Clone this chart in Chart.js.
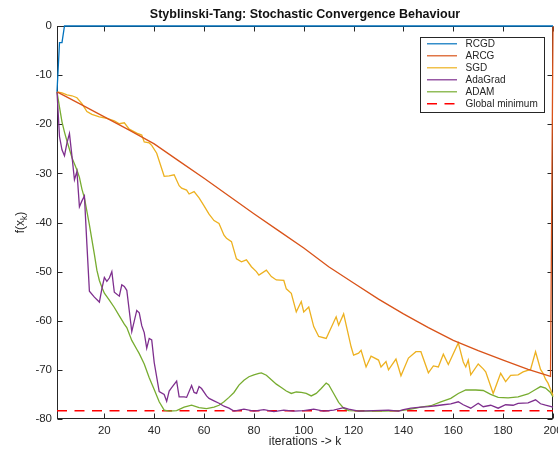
<!DOCTYPE html>
<html lang="en">

<head>
    <meta charset="UTF-8">
    <script src="https://cdn.jsdelivr.net/npm/chart.js@4.4.3/dist/chart.umd.min.js"></script>
    <style>
        html,
        body {
            margin: 0;
            padding: 0;
            overflow: hidden;
            background: #fff;
        }

        #wrap {
            position: relative;
            width: 600px;
            height: 451px;
        }
    </style>
</head>

<body>
    <div id="wrap"><canvas id="chart"></canvas></div>

    <script>
        // [iteration, f(x_k)] per optimiser
        const rcgd = [[1, -13.4], [2, -3.4], [3, -3.4], [4, 0], [200, 0]];

        const arcg = [
            [1, -13.4], [10, -15.8], [20, -18.5], [30, -21.2], [40, -24.0], [50, -27.5], [60, -31.0],
            [70, -34.6], [80, -38.2], [90, -41.7], [100, -45.2], [110, -49.0], [120, -52.3], [130, -55.6],
            [140, -58.6], [150, -61.4], [160, -64.0], [170, -66.1], [180, -68.0], [190, -69.9],
            [199, -71.3], [200, 0]
        ];

        const sgd = [
            [1, -13.4], [3, -13.6], [5, -14.0], [7, -14.2], [9, -14.6], [11, -15.8], [13, -17.4],
            [15, -18.0], [18, -18.5], [21, -18.8], [24, -19.3], [26, -19.9], [28, -19.7], [30, -21.0],
            [33, -21.8], [35, -22.2], [36, -23.6], [38, -23.8], [39, -24.3], [41, -25.9], [44, -30.6],
            [46, -30.5], [48, -30.3], [50, -32.5], [51, -33.0], [53, -33.4], [54, -34.2], [56, -33.7],
            [58, -35.0], [60, -36.6], [62, -38.3], [64, -39.6], [66, -40.2], [68, -42.6], [69, -43.2],
            [71, -43.9], [73, -47.4], [75, -48.0], [77, -47.6], [79, -49.0], [81, -50.0], [82, -50.7],
            [85, -49.7], [87, -51.0], [89, -51.7], [92, -51.8], [93, -53.5], [95, -54.4], [97, -58.2],
            [99, -56.1], [100, -58.2], [102, -57.2], [104, -61.2], [106, -63.2], [109, -63.6],
            [113, -59.2], [114, -60.9], [116, -58.6], [119, -65.3], [120, -67.0], [122, -66.6],
            [123, -66.0], [125, -69.4], [127, -67.2], [130, -68.0], [131, -69.4], [133, -68.3],
            [134, -70.0], [137, -67.8], [139, -71.2], [142, -67.6], [145, -66.3], [147, -66.3],
            [150, -70.6], [152, -69.2], [154, -69.4], [156, -66.8], [158, -68.9], [162, -64.5],
            [164, -68.4], [165, -69.4], [166, -68.0], [167, -71.0], [170, -68.8], [172, -69.8],
            [173, -70.4], [176, -74.8], [179, -70.7], [181, -72.4], [183, -71.1], [186, -71.0],
            [188, -70.4], [191, -69.9], [193, -66.3], [195, -69.9], [196, -70.7], [197, -71.9],
            [198, -72.7], [200, -75.2]
        ];

        const adagrad = [
            [1, -13.4], [2, -22.5], [3, -25.2], [4, -26.4], [5, -23.8], [6, -21.9], [7, -26.5],
            [8, -31.3], [9, -29.6], [10, -36.8], [11, -35.6], [12, -34.6], [13, -44.5], [14, -54.0],
            [16, -55.2], [18, -56.2], [19, -53.5], [20, -51.2], [21, -52.0], [22, -51.3], [23, -50.0],
            [24, -54.2], [26, -55.0], [27, -52.7], [28, -53.0], [29, -53.8], [31, -62.2], [33, -57.9],
            [34, -58.4], [35, -61.0], [36, -62.4], [37, -65.6], [38, -63.6], [39, -63.9], [40, -68.5],
            [42, -74.4], [44, -75.0], [45, -76.4], [46, -74.3], [47, -73.6], [49, -72.3], [50, -75.5],
            [52, -75.5], [53, -75.6], [55, -73.2], [56, -74.6], [57, -74.8], [58, -73.4], [59, -73.8],
            [61, -75.3], [62, -75.8], [64, -76.3], [66, -76.8], [68, -77.4], [70, -77.8], [72, -78.4],
            [76, -78.0], [80, -78.4], [84, -78.1], [88, -78.5], [92, -78.2], [96, -78.4], [100, -78.3],
            [104, -78.0], [108, -78.4], [112, -78.2], [116, -77.7], [118, -78.0], [122, -78.4],
            [128, -78.3], [134, -78.2], [138, -78.4], [140, -78.1], [143, -77.8], [147, -77.6],
            [150, -77.5], [153, -77.3], [156, -77.1], [159, -76.9], [162, -76.5], [164, -77.1],
            [167, -77.8], [170, -76.8], [172, -77.5], [175, -77.2], [178, -77.8], [181, -77.1],
            [184, -77.2], [186, -76.8], [190, -76.7], [193, -76.1], [195, -76.9], [197, -77.2],
            [200, -77.6]
        ];

        const adam = [
            [1, -13.4], [2, -16.5], [3, -19.5], [4, -21.6], [5, -23.4], [7, -26.8], [9, -29.3],
            [10, -30.8], [11, -33.2], [12, -35.0], [14, -40.5], [16, -46.5], [17, -49.7], [18, -51.8],
            [19, -53.2], [20, -54.4], [22, -55.8], [24, -57.3], [26, -59.0], [28, -60.7], [29, -61.4],
            [31, -64.0], [33, -65.8], [34, -66.7], [36, -68.8], [38, -71.6], [40, -74.0], [42, -76.5],
            [44, -78.2], [46, -78.4], [49, -78.3], [52, -77.6], [55, -77.2], [58, -77.7], [61, -77.9],
            [64, -77.6], [66, -77.2], [68, -76.5], [70, -75.6], [72, -74.6], [74, -73.1], [76, -72.1],
            [78, -71.4], [80, -71.0], [82, -70.7], [83, -70.6], [85, -71.1], [87, -72.0], [89, -72.9],
            [91, -73.6], [93, -74.3], [95, -74.8], [97, -74.5], [99, -74.6], [101, -74.8], [103, -75.3],
            [105, -74.8], [107, -73.8], [109, -72.7], [110, -73.0], [112, -74.8], [114, -76.6],
            [116, -77.8], [118, -78.3], [125, -78.4], [132, -78.4], [139, -78.3], [143, -78.0],
            [147, -77.6], [151, -77.3], [155, -76.5], [159, -75.8], [162, -74.8], [165, -74.1],
            [169, -74.1], [172, -74.2], [175, -75.0], [178, -75.6], [182, -75.7], [186, -75.5],
            [190, -74.9], [193, -74.0], [195, -73.4], [197, -73.7], [199, -74.6], [200, -75.5]
        ];

        const globalMin = [[1, -78.33], [200, -78.33]];

        const xTicks = [20, 40, 60, 80, 100, 120, 140, 160, 180, 200];
        const yTicks = [-80, -70, -60, -50, -40, -30, -20, -10, 0];

        const FONT = "'Liberation Sans', Arial, Helvetica, sans-serif";
        const AXIS_COLOR = "#262626";

        const series = [
            { label: "RCGD", data: rcgd, color: "#0072bd" },
            { label: "ARCG", data: arcg, color: "#d95319" },
            { label: "SGD", data: sgd, color: "#edb120" },
            { label: "AdaGrad", data: adagrad, color: "#7e2f8e" },
            { label: "ADAM", data: adam, color: "#77ac30" },
            { label: "Global minimum", data: globalMin, color: "#ff0000", dash: [10, 7.5] }
        ];

        // box round the plot with inward ticks on all four sides
        const axesBox = {
            id: "axesBox",
            beforeDatasetsDraw(chart) {
                const { ctx, chartArea: a, scales: { x, y } } = chart;
                const L = Math.round(a.left) + 0.5, R = Math.round(a.right) - 0.5;
                const T = Math.round(a.top) + 0.5, B = Math.round(a.bottom) - 0.5;
                ctx.save();
                ctx.strokeStyle = AXIS_COLOR;
                ctx.lineWidth = 1;
                ctx.strokeRect(L, T, R - L, B - T);
                ctx.beginPath();
                for (const v of xTicks) {
                    const px = Math.round(x.getPixelForValue(v)) + 0.5;
                    ctx.moveTo(px, B); ctx.lineTo(px, B - 5);
                    ctx.moveTo(px, T); ctx.lineTo(px, T + 5);
                }
                for (const v of yTicks) {
                    const py = Math.round(y.getPixelForValue(v)) + 0.5;
                    ctx.moveTo(L, py); ctx.lineTo(L + 5, py);
                    ctx.moveTo(R, py); ctx.lineTo(R - 5, py);
                }
                ctx.stroke();
                ctx.restore();
            }
        };

        // rotated y label with a subscript k
        const yLabel = {
            id: "yLabel",
            afterDraw(chart) {
                const { ctx, chartArea: a } = chart;
                const main = `12px ${FONT}`, sub = `8.5px ${FONT}`;
                ctx.save();
                ctx.translate(21, (a.top + a.bottom) / 2);
                ctx.rotate(-Math.PI / 2);
                ctx.fillStyle = AXIS_COLOR;
                ctx.textBaseline = "middle";
                ctx.textAlign = "left";
                ctx.font = main;
                const w1 = ctx.measureText("f(x").width, w3 = ctx.measureText(")").width;
                ctx.font = sub;
                const w2 = ctx.measureText("k").width;
                let sx = -(w1 + w2 + w3) / 2;
                ctx.font = main;
                ctx.fillText("f(x", sx, 0);
                sx += w1;
                ctx.font = sub;
                ctx.fillText("k", sx, 3.5);
                sx += w2;
                ctx.font = main;
                ctx.fillText(")", sx, 0);
                ctx.restore();
            }
        };

        // boxed legend in the top right corner of the plot
        const legendBox = {
            id: "legendBox",
            afterDatasetsDraw(chart) {
                const { ctx, chartArea: a } = chart;
                const sets = chart.data.datasets;
                const rowH = 12, boxW = 124, boxH = rowH * sets.length + 3;
                const left = Math.round(a.right - 9 - boxW) + 0.5, top = Math.round(a.top + 11) + 0.5;
                ctx.save();
                ctx.fillStyle = "#fff";
                ctx.fillRect(left, top, boxW, boxH);
                ctx.strokeStyle = AXIS_COLOR;
                ctx.lineWidth = 1;
                ctx.strokeRect(left, top, boxW, boxH);
                ctx.font = `10px ${FONT}`;
                ctx.textBaseline = "middle";
                sets.forEach((ds, i) => {
                    const cy = top + 6.3 + i * rowH;
                    ctx.beginPath();
                    ctx.strokeStyle = ds.borderColor;
                    ctx.lineWidth = ds.borderDash.length ? 1.5 : 1.2;
                    ctx.setLineDash(ds.borderDash);
                    ctx.moveTo(left + 6.5, cy);
                    ctx.lineTo(left + 36.5, cy);
                    ctx.stroke();
                    ctx.setLineDash([]);
                    ctx.fillStyle = AXIS_COLOR;
                    ctx.fillText(ds.label, left + 45, cy + 0.5);
                });
                ctx.restore();
            }
        };

        let ctx = document.getElementById("chart");
        let chartjs = new Chart(ctx, {
            type: "line",
            data: {
                datasets: series.map(s => ({
                    label: s.label,
                    data: s.data.map(([k, f]) => ({ x: k, y: f })),
                    borderColor: s.color,
                    borderWidth: s.dash ? 1.5 : 1.3,
                    borderDash: s.dash || [],
                    pointRadius: 0,
                    tension: 0,
                    fill: false,
                    clip: 3
                }))
            },
            options: {
                responsive: true,
                maintainAspectRatio: false,
                animation: false,
                events: [],
                layout: { padding: { top: 0, left: 0, right: 47, bottom: 0 } },
                plugins: {
                    legend: { display: false },
                    tooltip: { enabled: false },
                    title: {
                        display: true,
                        fullSize: false,
                        text: "Styblinski-Tang: Stochastic Convergence Behaviour",
                        color: "#111",
                        font: { family: FONT, size: 12.5, weight: "bold", lineHeight: 1.2 },
                        padding: { top: 7.5, bottom: 3.5 }
                    }
                },
                scales: {
                    x: {
                        type: "linear",
                        min: 1,
                        max: 200,
                        grid: { display: false, drawTicks: false },
                        border: { display: false },
                        ticks: { color: AXIS_COLOR, padding: 5, maxRotation: 0, font: { family: FONT, size: 11.5 } },
                        title: {
                            display: true,
                            text: "iterations -> k",
                            color: AXIS_COLOR,
                            font: { family: FONT, size: 12 },
                            padding: { top: 0, bottom: 2.5 }
                        },
                        afterBuildTicks: s => { s.ticks = xTicks.map(v => ({ value: v })); },
                        afterFit: s => { s.height = 32; s.paddingLeft = 0; s.paddingRight = 0; }
                    },
                    y: {
                        type: "linear",
                        min: -80,
                        max: 0,
                        grid: { display: false, drawTicks: false },
                        border: { display: false },
                        ticks: { color: AXIS_COLOR, padding: 5, font: { family: FONT, size: 11.5 } },
                        afterBuildTicks: s => { s.ticks = yTicks.map(v => ({ value: v })); },
                        afterFit: s => { s.width = 57; s.paddingTop = 0; s.paddingBottom = 0; }
                    }
                }
            },
            plugins: [axesBox, yLabel, legendBox]
        });
    </script>
</body>

</html>
